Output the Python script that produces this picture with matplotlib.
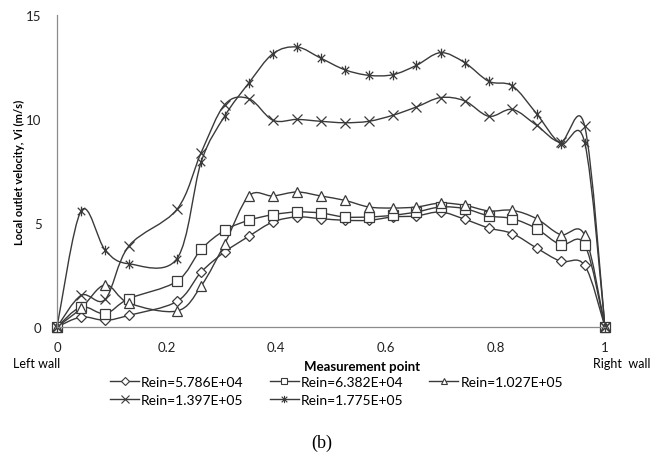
import numpy as np
import matplotlib
matplotlib.use("Agg")
from matplotlib import pyplot as plt
from matplotlib.path import Path
from matplotlib.patches import PathPatch
from matplotlib.lines import Line2D

plt.rcParams['font.family'] = ['Lato', 'DejaVu Sans']

# measurement points (fraction of channel width)
x = [0, 0.044, 0.088, 0.131, 0.219, 0.263, 0.306, 0.35, 0.394, 0.438, 0.481,
     0.525, 0.569, 0.613, 0.656, 0.70, 0.744, 0.788, 0.831, 0.875, 0.919, 0.963, 1]

re_5786 = [0, 0.48, 0.32, 0.56, 1.23, 2.64, 3.61, 4.36, 5.05, 5.29, 5.21,
           5.13, 5.13, 5.29, 5.34, 5.53, 5.18, 4.76, 4.49, 3.80, 3.16, 2.96, 0]
re_6382 = [0, 0.96, 0.64, 1.36, 2.2, 3.73, 4.65, 5.13, 5.4, 5.53, 5.48,
           5.29, 5.29, 5.37, 5.53, 5.77, 5.69, 5.34, 5.21, 4.73, 3.96, 3.96, 0]
re_1027 = [0, 0.9, 2.03, 1.15, 0.77, 1.97, 4.0, 6.3, 6.3, 6.49, 6.3,
           6.09, 5.77, 5.72, 5.77, 5.96, 5.85, 5.58, 5.61, 5.21, 4.44, 4.41, 0]
re_1397 = [0, 1.52, 1.33, 3.89, 5.66, 8.38, 10.69, 10.98, 9.94, 9.98, 9.89,
           9.82, 9.89, 10.18, 10.58, 11.03, 10.87, 10.13, 10.46, 9.70, 8.89, 9.65, 0]
re_1775 = [0, 5.58, 3.69, 3.04, 3.29, 7.93, 10.14, 11.73, 13.14, 13.46, 12.93,
           12.37, 12.10, 12.13, 12.58, 13.19, 12.71, 11.81, 11.59, 10.26, 8.81, 8.86, 0]

labels = ["Rein=5.786E+04", "Rein=6.382E+04", "Rein=1.027E+05",
          "Rein=1.397E+05", "Rein=1.775E+05"]
series = [re_5786, re_6382, re_1027, re_1397, re_1775]

# excel style "star": x plus a vertical bar
star = Path([(-1, -1), (1, 1), (-1, 1), (1, -1), (0, -1.3), (0, 1.3)],
            [Path.MOVETO, Path.LINETO] * 3)
markers = [('D', 5), ('s', 6.5), ('^', 6.5), ('x', 7), (star, 7)]

col = '#3a3a3a'


def smooth_path(xs, ys):
    # excel-like smoothed line: cubic bezier with catmull-rom control points
    p = np.column_stack([xs, ys]).astype(float)
    n = len(p)
    verts = [p[0]]
    codes = [Path.MOVETO]
    for i in range(n - 1):
        p0 = p[max(i - 1, 0)]
        p1 = p[i]
        p2 = p[i + 1]
        p3 = p[min(i + 2, n - 1)]
        c1 = p1 + (p2 - p0) / 6
        c2 = p2 - (p3 - p1) / 6
        verts += [c1, c2, p2]
        codes += [Path.CURVE4] * 3
    return Path(verts, codes)


fig = plt.figure(figsize=(6.53, 4.56), dpi=100)
ax = fig.add_axes([57 / 653, 1 - 328 / 456, 548 / 653, 312 / 456])

handles = []
for ys, lab, (m, ms) in zip(series, labels, markers):
    ax.add_patch(PathPatch(smooth_path(x, ys), fill=False, edgecolor=col, lw=1.0))
    ax.plot(x, ys, linestyle='none', marker=m, markersize=ms, clip_on=False,
            markerfacecolor='white', markeredgecolor=col, markeredgewidth=0.9)
    handles.append(Line2D([], [], color=col, lw=1.0, marker=m, markersize=ms * 0.75,
                          markerfacecolor='white', markeredgecolor=col,
                          markeredgewidth=0.8, label=lab))

ax.set_xlim(0, 1)
ax.set_ylim(0, 15)
ax.set_xticks([0, 0.2, 0.4, 0.6, 0.8, 1])
ax.set_xticklabels(['0', '0.2', '0.4', '0.6', '0.8', '1'])
ax.set_yticks([0, 5, 10, 15])
ax.tick_params(length=0, labelsize=9.5, colors='#222222')
ax.tick_params(axis='x', pad=10)
ax.tick_params(axis='y', pad=11)
for s in ['top', 'right']:
    ax.spines[s].set_visible(False)
for s in ['left', 'bottom']:
    ax.spines[s].set_color('#8c8c8c')
    ax.spines[s].set_linewidth(0.9)

fig.text(19 / 653, 1 - 172 / 456, 'Local outlet velocity, Vi (m/s)', fontsize=8,
         fontweight='bold', rotation=90, ha='center', va='center')
fig.text(362 / 653, 1 - 367 / 456, 'Measurement point', fontsize=9.5,
         fontweight='bold', ha='center', va='center')
fig.text(13 / 653, 1 - 364 / 456, 'Left wall', fontsize=9, ha='left', va='center')
fig.text(593 / 653, 1 - 364 / 456, 'Right  wall', fontsize=9, ha='left', va='center')

order = [0, 3, 1, 4, 2]
fig.legend([handles[i] for i in order], [labels[i] for i in order],
           loc='upper left', bbox_to_anchor=(110 / 653, 1 - 377 / 456),
           ncol=3, frameon=False, fontsize=10, handlelength=2.1,
           handletextpad=0.15, columnspacing=1.85, labelspacing=0.45,
           borderaxespad=0, borderpad=0)

fig.text(322 / 653, 1 - 443 / 456, '(b)', fontsize=13,
         family='Liberation Serif', ha='center', va='center')

fig.savefig('out.png', dpi=100)
